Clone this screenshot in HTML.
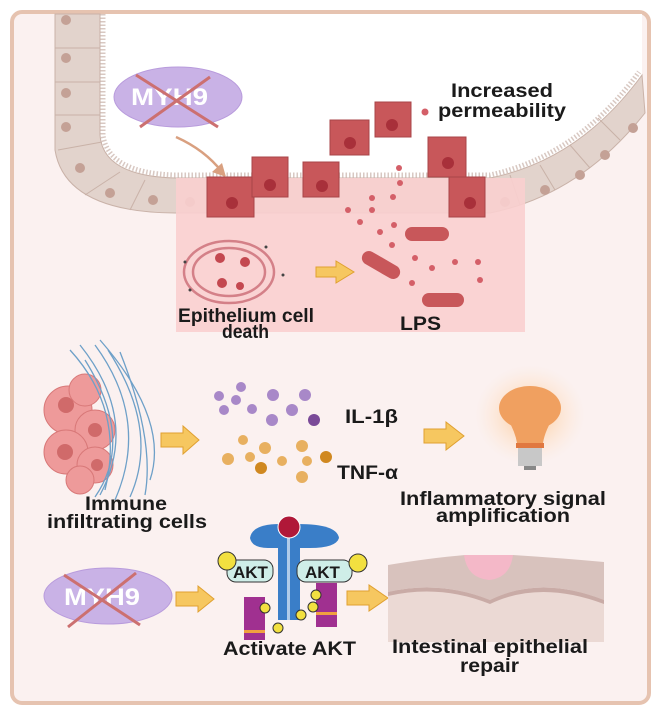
<!DOCTYPE html>
<html><head><meta charset="utf-8"><style>
html,body{margin:0;padding:0;background:#fff;}
svg{display:block}
text{font-family:"Liberation Sans",sans-serif;font-weight:bold;fill:#1a1a1a}
</style></head><body>
<svg width="661" height="717" viewBox="0 0 661 717" xmlns="http://www.w3.org/2000/svg">
<defs>
<radialGradient id="glow"><stop offset="0" stop-color="#ffb060" stop-opacity=".7"/><stop offset="1" stop-color="#ffe0c0" stop-opacity="0"/></radialGradient>
</defs>
<rect x="12" y="12" width="637" height="691" rx="10" fill="#fbf1f0" stroke="#e6c3b0" stroke-width="4"/>
<path d="M100 14 L100 135 Q105 178 175 180 L490 180 Q580 160 642 75 L642 14 Z" fill="#ffffff"/>
<path d="M55 14 L55 150 Q65 212 175 213 L490 213 Q580 195 645 113 L642 75 Q580 160 490 178 L175 178 Q103 176 100 135 L100 14 Z" fill="#e2d3cc" stroke="#c9b2a8" stroke-width="1"/>
<path d="M103 14 L103 135 Q108 173 175 175 L490 175 Q578 156 639 72" fill="none" stroke="#d8c8c2" stroke-width="5" stroke-dasharray="1.5 2"/>
<g stroke="#c9b2a8" stroke-width="1">
<line x1="55" y1="48" x2="100" y2="48"/><line x1="55" y1="82" x2="100" y2="82"/><line x1="55" y1="115" x2="100" y2="115"/><line x1="58" y1="150" x2="102" y2="142"/><line x1="85" y1="195" x2="120" y2="172"/><line x1="130" y1="210" x2="145" y2="180"/>
<line x1="520" y1="205" x2="510" y2="175"/><line x1="555" y1="190" x2="540" y2="165"/><line x1="590" y1="168" x2="570" y2="145"/><line x1="620" y1="140" x2="598" y2="118"/>
</g>
<g fill="#c4a196">
<circle cx="66" cy="20" r="5"/><circle cx="66" cy="58" r="5"/><circle cx="66" cy="93" r="5"/><circle cx="66" cy="127" r="5"/><circle cx="80" cy="168" r="5"/><circle cx="110" cy="193" r="5"/><circle cx="153" cy="200" r="5"/><circle cx="190" cy="202" r="5"/>
<circle cx="505" cy="202" r="5"/><circle cx="545" cy="190" r="5"/><circle cx="580" cy="175" r="5"/><circle cx="605" cy="155" r="5"/><circle cx="633" cy="128" r="5"/>
</g>
<rect x="176" y="178" width="349" height="154" fill="#f9cfcf" opacity=".9"/>
<g fill="#c8575a" stroke="#a84448" stroke-width="1">
<rect x="207" y="177" width="47" height="40"/><rect x="252" y="157" width="36" height="40"/><rect x="303" y="162" width="36" height="35"/>
<rect x="330" y="120" width="39" height="35"/><rect x="375" y="102" width="36" height="35"/><rect x="428" y="137" width="38" height="40"/><rect x="449" y="177" width="36" height="40"/>
</g>
<g fill="#a8303a"><circle cx="232" cy="203" r="6"/><circle cx="270" cy="185" r="6"/><circle cx="322" cy="186" r="6"/><circle cx="350" cy="143" r="6"/><circle cx="392" cy="125" r="6"/><circle cx="448" cy="163" r="6"/><circle cx="470" cy="203" r="6"/></g>
<path d="M176 137 Q205 150 222 172" stroke="#d9a080" stroke-width="2.5" fill="none"/>
<polygon points="226,177 212,172 222,163" fill="#d9a080"/>
<g fill="#d45f68"><circle cx="425" cy="112" r="3.5"/><circle cx="399" cy="168" r="3"/><circle cx="400" cy="183" r="3"/><circle cx="372" cy="198" r="3"/><circle cx="393" cy="197" r="3"/><circle cx="348" cy="210" r="3"/><circle cx="372" cy="210" r="3"/><circle cx="360" cy="222" r="3"/><circle cx="394" cy="225" r="3"/><circle cx="380" cy="232" r="3"/><circle cx="392" cy="245" r="3"/><circle cx="415" cy="258" r="3"/><circle cx="455" cy="262" r="3"/><circle cx="432" cy="268" r="3"/><circle cx="478" cy="262" r="3"/><circle cx="412" cy="283" r="3"/><circle cx="480" cy="280" r="3"/></g>
<g fill="#c8575a"><rect x="405" y="227" width="44" height="14" rx="7"/><rect x="360" y="258" width="42" height="14" rx="7" transform="rotate(30 381 265)"/><rect x="422" y="293" width="42" height="14" rx="7"/></g>
<g fill="none" stroke="#d48088" stroke-width="2.5"><ellipse cx="229" cy="272" rx="45" ry="31"/><ellipse cx="229" cy="272" rx="36" ry="24"/></g>
<g fill="#c44850"><circle cx="220" cy="258" r="5"/><circle cx="245" cy="262" r="5"/><circle cx="222" cy="283" r="5"/><circle cx="240" cy="286" r="4"/></g>
<g fill="#444"><circle cx="185" cy="262" r="1.5"/><circle cx="190" cy="290" r="1.5"/><circle cx="266" cy="247" r="1.5"/><circle cx="283" cy="275" r="1.5"/></g>
<polygon points="316,267 336,267 336,261 354,272 336,283 336,277 316,277" fill="#f6c760" stroke="#e0a030"/>
<text x="178" y="322" font-size="19" textLength="136" lengthAdjust="spacingAndGlyphs">Epithelium cell</text>
<text x="222" y="338" font-size="19" textLength="47" lengthAdjust="spacingAndGlyphs">death</text>
<text x="400" y="330" font-size="19" textLength="41" lengthAdjust="spacingAndGlyphs">LPS</text>
<text x="451" y="97" font-size="19" textLength="102" lengthAdjust="spacingAndGlyphs">Increased</text>
<text x="438" y="117" font-size="19" textLength="128" lengthAdjust="spacingAndGlyphs">permeability</text>
<ellipse cx="178" cy="97" rx="64" ry="30" fill="#c9b2e6" stroke="#b89bdc"/>
<text x="131" y="105" font-size="24" textLength="77" lengthAdjust="spacingAndGlyphs" style="fill:#fff">MYH9</text>
<g stroke="#cc7070" stroke-width="3"><line x1="136" y1="75" x2="218" y2="127"/><line x1="210" y1="77" x2="140" y2="127"/></g>
<g fill="#ee9a9a" stroke="#d87878"><circle cx="68" cy="410" r="24"/><circle cx="95" cy="430" r="20"/><circle cx="66" cy="452" r="22"/><circle cx="95" cy="465" r="18"/><circle cx="85" cy="390" r="16"/><circle cx="80" cy="480" r="14"/></g>
<g fill="#d06a6a"><circle cx="66" cy="405" r="8"/><circle cx="95" cy="430" r="7"/><circle cx="65" cy="452" r="8"/><circle cx="97" cy="465" r="6"/></g>
<g stroke="#6ea0c8" stroke-width="1.3" fill="none"><path d="M80 345 Q140 420 100 495"/><path d="M95 345 Q150 420 115 500"/><path d="M108 350 Q160 430 130 497"/><path d="M120 352 Q155 440 145 495"/><path d="M85 360 Q135 440 95 497"/><path d="M100 340 Q170 420 150 480"/><path d="M70 350 Q125 410 105 490"/></g>
<text x="85" y="510" font-size="19" textLength="82" lengthAdjust="spacingAndGlyphs">Immune</text>
<text x="47" y="528" font-size="19" textLength="160" lengthAdjust="spacingAndGlyphs">infiltrating cells</text>
<polygon points="161,433 183,433 183,426 199,440 183,454 183,447 161,447" fill="#f6c760" stroke="#e0a030"/>
<g fill="#a888c8"><circle cx="219" cy="396" r="5"/><circle cx="241" cy="387" r="5"/><circle cx="236" cy="400" r="5"/><circle cx="252" cy="409" r="5"/><circle cx="273" cy="395" r="6"/><circle cx="224" cy="410" r="5"/><circle cx="292" cy="410" r="6"/><circle cx="305" cy="395" r="6"/><circle cx="272" cy="420" r="6"/><circle cx="314" cy="420" r="6" fill="#7a4a98"/></g>
<g fill="#e8b060"><circle cx="243" cy="440" r="5"/><circle cx="265" cy="448" r="6"/><circle cx="228" cy="459" r="6"/><circle cx="250" cy="457" r="5"/><circle cx="282" cy="461" r="5"/><circle cx="302" cy="446" r="6"/><circle cx="307" cy="461" r="5"/><circle cx="326" cy="457" r="6" fill="#d08820"/><circle cx="261" cy="468" r="6" fill="#d08820"/><circle cx="302" cy="477" r="6"/></g>
<text x="345" y="423" font-size="19" textLength="53" lengthAdjust="spacingAndGlyphs">IL-1β</text>
<text x="337" y="479" font-size="19" textLength="61" lengthAdjust="spacingAndGlyphs">TNF-α</text>
<polygon points="424,429 446,429 446,422 464,436 446,450 446,443 424,443" fill="#f6c760" stroke="#e0a030"/>
<ellipse cx="530" cy="415" rx="55" ry="50" fill="url(#glow)"/>
<ellipse cx="530" cy="408" rx="31" ry="22" fill="#f0a060"/>
<path d="M505 415 Q515 430 517 443 L543 443 Q545 430 555 415 Z" fill="#f0a060"/>
<rect x="516" y="443" width="28" height="5" fill="#e07840"/>
<rect x="518" y="448" width="24" height="18" fill="#c8c8c8"/>
<rect x="524" y="466" width="12" height="4" fill="#888"/>
<text x="400" y="505" font-size="19" textLength="206" lengthAdjust="spacingAndGlyphs">Inflammatory signal</text>
<text x="436" y="522" font-size="19" textLength="134" lengthAdjust="spacingAndGlyphs">amplification</text>
<ellipse cx="108" cy="596" rx="64" ry="28" fill="#c9b2e6" stroke="#b89bdc"/>
<text x="64" y="605" font-size="24" textLength="76" lengthAdjust="spacingAndGlyphs" style="fill:#fff">MYH9</text>
<g stroke="#cc7070" stroke-width="3"><line x1="64" y1="575" x2="140" y2="625"/><line x1="136" y1="573" x2="68" y2="627"/></g>
<polygon points="176,592 198,592 198,586 214,599 198,612 198,606 176,606" fill="#f6c760" stroke="#e0a030"/>
<!-- receptor -->
<path d="M250 538 Q252 524 280 524 L280 548 L268 548 Q252 548 250 538 Z" fill="#3a7ec8"/>
<path d="M339 538 Q337 524 298 524 L298 548 L310 548 Q336 548 339 538 Z" fill="#3a7ec8"/>
<rect x="278" y="530" width="22" height="90" fill="#3a7ec8"/>
<rect x="287" y="535" width="3" height="85" fill="#fff" opacity=".6"/>
<circle cx="289" cy="527" r="11" fill="#b01838" stroke="#fff"/>
<rect x="227" y="560" width="46" height="22" rx="9" fill="#cfeee8" stroke="#333"/>
<rect x="297" y="560" width="55" height="22" rx="9" fill="#cfeee8" stroke="#333"/>
<text x="233" y="578" font-size="17">AKT</text><text x="305" y="578" font-size="17">AKT</text>
<circle cx="227" cy="561" r="9" fill="#f2e040" stroke="#333"/><circle cx="358" cy="563" r="9" fill="#f2e040" stroke="#333"/>
<rect x="244" y="597" width="21" height="43" fill="#a03090"/><rect x="316" y="583" width="21" height="44" fill="#a03090"/>
<rect x="244" y="630" width="21" height="3" fill="#f0a040"/><rect x="316" y="612" width="21" height="3" fill="#f0a040"/>
<g fill="#f2e040" stroke="#333"><circle cx="265" cy="608" r="5"/><circle cx="278" cy="628" r="5"/><circle cx="316" cy="595" r="5"/><circle cx="301" cy="615" r="5"/><circle cx="313" cy="607" r="5"/></g>
<text x="223" y="655" font-size="19" textLength="133" lengthAdjust="spacingAndGlyphs">Activate AKT</text>
<polygon points="347,591 369,591 369,585 388,598 369,611 369,605 347,605" fill="#f6c760" stroke="#e0a030"/>
<rect x="388" y="590" width="216" height="52" fill="#ebd9d4"/>
<path d="M388 565 Q430 558 465 555 L513 555 Q560 558 604 562 L604 600 Q540 575 490 600 Q440 580 388 592 Z" fill="#d8c2bd"/>
<path d="M388 592 Q440 580 490 600 Q540 575 604 600 L604 604 Q540 580 490 604 Q440 584 388 596 Z" fill="#c9aba6"/>
<path d="M464 555 L513 555 Q510 578 489 580 Q467 578 464 555 Z" fill="#f4b8c8"/>
<text x="392" y="653" font-size="19" textLength="196" lengthAdjust="spacingAndGlyphs">Intestinal epithelial</text>
<text x="460" y="672" font-size="19" textLength="59" lengthAdjust="spacingAndGlyphs">repair</text>
</svg>
</body></html>
